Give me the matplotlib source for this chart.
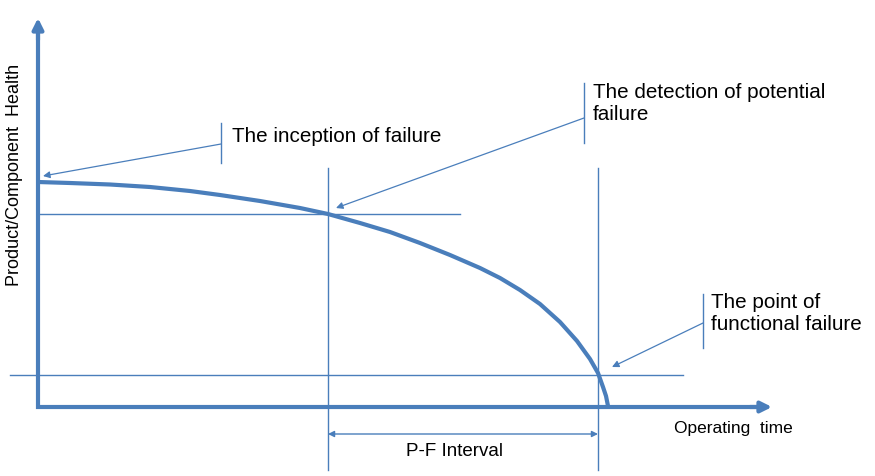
import matplotlib.pyplot as plt

# Degradation curve (x = operating time, y = screen height, pixel-like units)
curve_x = [38, 70, 110, 150, 190, 220, 260, 300, 328, 360, 390, 420, 450, 480,
           500, 520, 540, 560, 577, 590, 598, 603, 606, 608]
curve_y = [182, 183, 184.5, 187, 191, 195, 201, 208, 214, 223, 232, 243, 255, 268,
           278, 290, 304, 322, 341, 359, 373, 387, 396, 406]

# Key points
origin = (38, 407)
p_point = (328, 214)   # potential failure
f_point = (598, 375)   # functional failure

labels = ["The inception of failure",
          "The detection of potential\nfailure",
          "The point of\nfunctional failure"]

blue = "#4a7ebb"
plt.rcParams['font.family'] = ['Liberation Sans', 'DejaVu Sans']

fig = plt.figure(figsize=(8.75, 4.76), dpi=100)
ax = fig.add_axes([0, 0, 1, 1])
ax.set_xlim(0, 875)
ax.set_ylim(476, 0)
ax.axis('off')

# axes (thick L with arrowheads)
ax.plot([origin[0], origin[0], 760], [30, origin[1], origin[1]], color=blue, lw=3,
        solid_joinstyle='miter', solid_capstyle='butt')
ax.annotate("", xy=(origin[0], 18), xytext=(origin[0], 40),
            arrowprops=dict(arrowstyle='-|>', color=blue, lw=3, mutation_scale=16,
                            shrinkA=0, shrinkB=0))
ax.annotate("", xy=(772, origin[1]), xytext=(750, origin[1]),
            arrowprops=dict(arrowstyle='-|>', color=blue, lw=3, mutation_scale=16,
                            shrinkA=0, shrinkB=0))

# thin reference lines
ax.plot([38, 460], [p_point[1], p_point[1]], color=blue, lw=1)
ax.plot([10, 683], [f_point[1], f_point[1]], color=blue, lw=1)
ax.plot([p_point[0], p_point[0]], [168, 470], color=blue, lw=1)
ax.plot([f_point[0], f_point[0]], [168, 470], color=blue, lw=1)

# health curve
ax.plot(curve_x, curve_y, color=blue, lw=3, solid_capstyle='butt', solid_joinstyle='round')

# P-F interval
ax.annotate("", xy=(p_point[0], 434), xytext=(f_point[0], 434),
            arrowprops=dict(arrowstyle='<|-|>', color=blue, lw=1, mutation_scale=9,
                            shrinkA=0, shrinkB=0))
ax.text(454, 452, "P-F Interval", fontsize=13.5, ha='center', va='center')

# callouts: bar + arrow + label
callouts = [
    (221, (123, 163), (221, 144), (43, 176), labels[0], (232, 137)),
    (584, (83, 143), (584, 118), (336, 208), labels[1], (593, 103)),
    (703, (294, 348), (703, 323), (612, 367), labels[2], (711, 314)),
]
for bx, (y0, y1), start, end, txt, pos in callouts:
    ax.plot([bx, bx], [y0, y1], color=blue, lw=1)
    ax.annotate("", xy=end, xytext=start,
                arrowprops=dict(arrowstyle='-|>', color=blue, lw=0.9, mutation_scale=10,
                                shrinkA=0, shrinkB=0))
    ax.text(pos[0], pos[1], txt, fontsize=14.9, ha='left', va='center', linespacing=1.2)

ax.text(674, 428, "Operating  time", fontsize=12.5, ha='left', va='center')
ax.text(15, 175, "Product/Component  Health", fontsize=13, rotation=90,
        ha='center', va='center')

fig.savefig("out.png", dpi=100)
